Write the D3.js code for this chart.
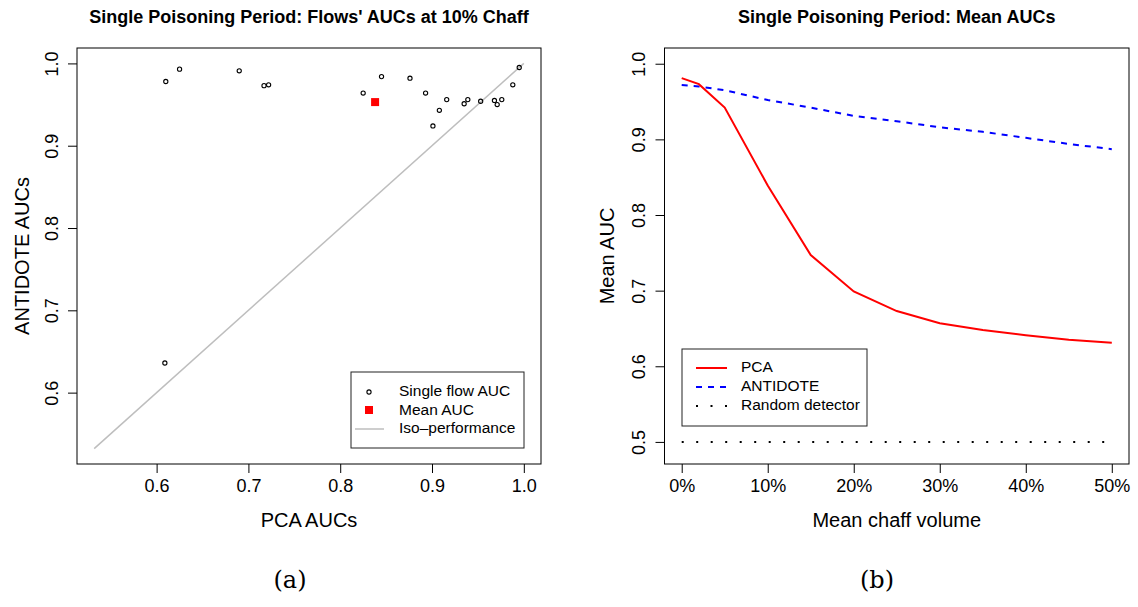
<!DOCTYPE html>
<html>
<head>
<meta charset="utf-8">
<script src="https://cdn.jsdelivr.net/npm/d3@7"></script>
<style>
  body { margin: 0; background: #fff; }
  svg { display: block; font-family: "Liberation Sans", Arial, sans-serif; }
</style>
</head>
<body>
<svg id="chart" width="1138" height="607"></svg>
<script>
// (a) per-flow AUCs at 10% chaff
const flowPca      = [0.610, 0.625, 0.690, 0.717, 0.722, 0.825, 0.845, 0.876, 0.893, 0.916, 0.908,
                      0.901, 0.935, 0.939, 0.953, 0.968, 0.971, 0.976, 0.988, 0.995, 0.609];
const flowAntidote = [0.978, 0.993, 0.991, 0.973, 0.974, 0.964, 0.984, 0.982, 0.964, 0.956, 0.943,
                      0.924, 0.951, 0.956, 0.954, 0.955, 0.950, 0.956, 0.974, 0.995, 0.636];
const meanPoint = [0.838, 0.953];
const isoRange = [0.532, 1.0];
const ticksA = [0.6, 0.7, 0.8, 0.9, 1.0];

// (b) mean AUC vs chaff volume
const chaffPct     = [0, 2, 5, 10, 15, 20, 25, 30, 35, 40, 45, 50];
const pcaMean      = [0.981, 0.973, 0.942, 0.839, 0.747, 0.699, 0.673, 0.657, 0.648, 0.641, 0.635, 0.631];
const antidoteMean = [0.972, 0.970, 0.965, 0.952, 0.942, 0.931, 0.924, 0.916, 0.910, 0.902, 0.894, 0.887];
const randomMean   = [0.5, 0.5, 0.5, 0.5, 0.5, 0.5, 0.5, 0.5, 0.5, 0.5, 0.5, 0.5];
const ticksBx = [0, 10, 20, 30, 40, 50];
const ticksBy = [0.5, 0.6, 0.7, 0.8, 0.9, 1.0];

const svg = d3.select('#chart');
const fmt1 = d3.format('.1f');

// R-style padded domain (4% each side)
function pad(lo, hi) {
    const d = (hi - lo) * 0.04;
    return [lo - d, hi + d];
}

function drawAxes(g, x, y, xt, yt, xfmt, box) {
    g.append('rect')
        .attr('x', box[0]).attr('y', box[2])
        .attr('width', box[1] - box[0]).attr('height', box[3] - box[2])
        .attr('fill', 'none').attr('stroke', '#000').attr('stroke-width', 1);

    const xa = g.append('g').attr('transform', `translate(0,${box[3]})`)
        .call(d3.axisBottom(x).tickValues(xt).tickFormat(xfmt).tickSize(9).tickPadding(6));
    xa.select('.domain').remove();
    xa.selectAll('text').attr('font-size', 18).attr('fill', '#000')
        .attr('font-family', '"Liberation Sans", Arial, sans-serif');

    const ya = g.append('g').attr('transform', `translate(${box[0]},0)`)
        .call(d3.axisLeft(y).tickValues(yt).tickFormat(fmt1).tickSize(9));
    ya.select('.domain').remove();
    ya.selectAll('text')
        .attr('font-size', 18).attr('fill', '#000')
        .attr('font-family', '"Liberation Sans", Arial, sans-serif')
        .attr('text-anchor', 'middle')
        .attr('dy', null)
        .attr('x', null)
        .attr('y', null)
        .attr('transform', 'translate(-24,0) rotate(-90)')
        .attr('dominant-baseline', 'middle');
}

// ---------- panel (a) ----------
const boxA = [77, 541, 48, 464];
const xA = d3.scaleLinear().domain(pad(isoRange[0], isoRange[1])).range([boxA[0], boxA[1]]);
const yA = d3.scaleLinear().domain(pad(isoRange[0], isoRange[1])).range([boxA[3], boxA[2]]);
const gA = svg.append('g');

gA.append('line')
    .attr('x1', xA(isoRange[0])).attr('y1', yA(isoRange[0]))
    .attr('x2', xA(isoRange[1])).attr('y2', yA(isoRange[1]))
    .attr('stroke', '#bebebe').attr('stroke-width', 1.5);

gA.selectAll('circle.flow')
    .data(flowPca.map((p, i) => [p, flowAntidote[i]]))
    .enter().append('circle')
    .attr('class', 'flow')
    .attr('cx', d => xA(d[0])).attr('cy', d => yA(d[1]))
    .attr('r', 2.1)
    .attr('fill', 'none').attr('stroke', '#000').attr('stroke-width', 1.1);

gA.append('rect')
    .attr('x', xA(meanPoint[0]) - 4).attr('y', yA(meanPoint[1]) - 4)
    .attr('width', 8).attr('height', 8)
    .attr('fill', '#ff0000');

drawAxes(gA, xA, yA, ticksA, ticksA, fmt1, boxA);

gA.append('text').attr('x', (boxA[0] + boxA[1]) / 2).attr('y', 23)
    .attr('text-anchor', 'middle').attr('font-weight', 'bold').attr('font-size', 18)
    .text("Single Poisoning Period: Flows' AUCs at 10% Chaff");
gA.append('text').attr('x', (boxA[0] + boxA[1]) / 2).attr('y', 527)
    .attr('text-anchor', 'middle').attr('font-size', 20)
    .text('PCA AUCs');
gA.append('text').attr('transform', `translate(29,${(boxA[2] + boxA[3]) / 2}) rotate(-90)`)
    .attr('text-anchor', 'middle').attr('font-size', 20)
    .text('ANTIDOTE AUCs');

// legend (a)
const legA = gA.append('g');
legA.append('rect').attr('x', 351).attr('y', 372).attr('width', 173).attr('height', 76)
    .attr('fill', '#fff').attr('stroke', '#222').attr('stroke-width', 1);
legA.append('circle').attr('cx', 369).attr('cy', 392).attr('r', 2.1)
    .attr('fill', 'none').attr('stroke', '#000').attr('stroke-width', 1.1);
legA.append('rect').attr('x', 365).attr('y', 406).attr('width', 8).attr('height', 8).attr('fill', '#ff0000');
legA.append('line').attr('x1', 355).attr('x2', 384).attr('y1', 429).attr('y2', 429)
    .attr('stroke', '#bebebe').attr('stroke-width', 1.5);
['Single flow AUC', 'Mean AUC', 'Iso\u2013performance'].forEach((t, i) => {
    legA.append('text').attr('x', 399).attr('y', 392 + i * 18.6)
        .attr('dominant-baseline', 'middle').attr('font-size', 15.5).text(t);
});

// ---------- panel (b) ----------
const boxB = [664.5, 1129, 48, 464];
const xB = d3.scaleLinear().domain(pad(0, 50)).range([boxB[0], boxB[1]]);
const yB = d3.scaleLinear().domain([0.4708, 1.0208]).range([boxB[3], boxB[2]]);
const gB = svg.append('g');

const lineB = vals => d3.line().x((d, i) => xB(chaffPct[i])).y(d => yB(d))(vals);

gB.append('path').attr('d', lineB(randomMean))
    .attr('fill', 'none').attr('stroke', '#000').attr('stroke-width', 2)
    .attr('stroke-dasharray', '2,12.5');
gB.append('path').attr('d', lineB(antidoteMean))
    .attr('fill', 'none').attr('stroke', '#0000ff').attr('stroke-width', 2)
    .attr('stroke-dasharray', '6,6');
gB.append('path').attr('d', lineB(pcaMean))
    .attr('fill', 'none').attr('stroke', '#ff0000').attr('stroke-width', 2);

drawAxes(gB, xB, yB, ticksBx, ticksBy, d => d + '%', boxB);

gB.append('text').attr('x', (boxB[0] + boxB[1]) / 2).attr('y', 23)
    .attr('text-anchor', 'middle').attr('font-weight', 'bold').attr('font-size', 18)
    .text('Single Poisoning Period: Mean AUCs');
gB.append('text').attr('x', (boxB[0] + boxB[1]) / 2).attr('y', 527)
    .attr('text-anchor', 'middle').attr('font-size', 20)
    .text('Mean chaff volume');
gB.append('text').attr('transform', `translate(614,${(boxB[2] + boxB[3]) / 2}) rotate(-90)`)
    .attr('text-anchor', 'middle').attr('font-size', 20)
    .text('Mean AUC');

// legend (b)
const legB = gB.append('g');
legB.append('rect').attr('x', 682).attr('y', 349).attr('width', 185).attr('height', 77)
    .attr('fill', '#fff').attr('stroke', '#222').attr('stroke-width', 1);
const legItems = [
    { label: 'PCA', color: '#ff0000', dash: null },
    { label: 'ANTIDOTE', color: '#0000ff', dash: '6,6' },
    { label: 'Random detector', color: '#000', dash: '2,12.5' }
];
legItems.forEach((it, i) => {
    const yy = 368 + i * 19;
    legB.append('line').attr('x1', 696).attr('x2', 727).attr('y1', yy).attr('y2', yy)
        .attr('stroke', it.color).attr('stroke-width', 2)
        .attr('stroke-dasharray', it.dash);
    legB.append('text').attr('x', 741).attr('y', yy)
        .attr('dominant-baseline', 'middle').attr('font-size', 15.5).text(it.label);
});

// sub-figure captions
[['(a)', 290], ['(b)', 877]].forEach(([t, x]) => {
    svg.append('text').attr('x', x).attr('y', 588)
        .attr('text-anchor', 'middle')
        .attr('font-family', '"DejaVu Serif", "Liberation Serif", serif')
        .attr('font-size', 24).text(t);
});
</script>
</body>
</html>
